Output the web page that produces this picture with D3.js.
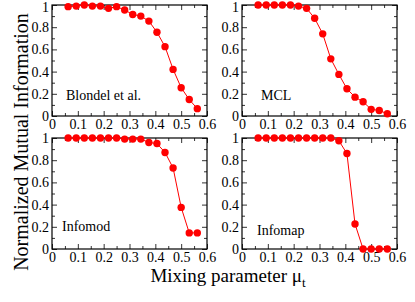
<!DOCTYPE html>
<html>
<head>
<meta charset="utf-8">
<script src="https://cdn.jsdelivr.net/npm/d3@7"></script>
<style>
  body { margin: 0; background: #fff; }
  svg { display: block; }
</style>
</head>
<body>
<div id="chart-area"></div>
<script>
// mixing parameter values (1/32 steps)
const MU = [0.0625, 0.09375, 0.125, 0.15625, 0.1875, 0.21875, 0.25, 0.28125, 0.3125,
  0.34375, 0.375, 0.40625, 0.4375, 0.46875, 0.5, 0.53125, 0.5625];

const BLONDEL = [0.985, 0.99, 1.0, 0.99, 0.99, 0.97, 0.985, 0.955, 0.915, 0.90, 0.855,
  0.755, 0.625, 0.42, 0.255, 0.148, 0.066];
const MCL = [1.0, 1.0, 1.0, 1.0, 1.0, 0.99, 0.97, 0.88, 0.74, 0.515, 0.375, 0.245,
  0.17, 0.128, 0.06, 0.05, 0.02];
const INFOMOD = [1.0, 1.0, 1.0, 1.0, 1.0, 1.0, 1.0, 0.99, 0.99, 0.99, 0.96, 0.95,
  0.87, 0.73, 0.375, 0.145, 0.145];
const INFOMAP = [1.0, 1.0, 1.0, 1.0, 1.0, 1.0, 1.0, 1.0, 1.0, 1.0, 0.975, 0.86,
  0.225, 0.0, 0.0, 0.0, 0.0];

const X_TICKS = [0, 0.1, 0.2, 0.3, 0.4, 0.5, 0.6];
const Y_TICKS = [0, 0.2, 0.4, 0.6, 0.8, 1];

const PANELS = [
  { name: 'Blondel et al.', values: BLONDEL, col: 0, row: 0, lx: 14, ly: -16 },
  { name: 'MCL', values: MCL, col: 1, row: 0, lx: 19, ly: -16 },
  { name: 'Infomod', values: INFOMOD, col: 0, row: 1, lx: 10, ly: -18 },
  { name: 'Infomap', values: INFOMAP, col: 1, row: 1, lx: 15, ly: -14 },
];

const W = 415, H = 302;
const colX = [52, 242];
const rowY = [5, 138];
const pw = 155, ph = 111;
const FONT = '"Liberation Serif", "Times New Roman", serif';

const svg = d3.select('#chart-area')
  .append('svg')
  .attr('width', W)
  .attr('height', H)
  .style('font-family', FONT);

const x = d3.scaleLinear().domain([0, 0.6]).range([0, pw]);
const y = d3.scaleLinear().domain([0, 1]).range([ph, 0]);

const fmt = (d) => d === 0 ? '0' : d === 1 ? '1' : d3.format('.1f')(d);
const xMinor = d3.range(0, 0.601, 0.05).filter((d, i) => i % 2 === 1);
const yMinor = d3.range(0.1, 1, 0.2);

const styleAxis = (g) => {
  g.select('.domain').remove();
  g.selectAll('line').attr('stroke', '#333').attr('stroke-width', 1);
  g.selectAll('text').attr('fill', '#000').style('font-size', '14px').style('font-family', FONT);
};

PANELS.forEach((p) => {
  const g = svg.append('g')
    .attr('transform', `translate(${colX[p.col]},${rowY[p.row]})`);

  // major + minor ticks, inward on all four sides
  g.append('g').attr('transform', `translate(0,${ph})`)
    .call(d3.axisBottom(x).tickValues(X_TICKS).tickSize(-5).tickPadding(3).tickFormat(fmt))
    .call(styleAxis);
  g.append('g').attr('transform', `translate(0,${ph})`)
    .call(d3.axisBottom(x).tickValues(xMinor).tickSize(-3).tickFormat(''))
    .call(styleAxis);
  const yAx = g.append('g')
    .call(d3.axisLeft(y).tickValues(Y_TICKS).tickSize(-5).tickPadding(3).tickFormat(fmt))
    .call(styleAxis);
  if (p.row === 0) {
    // keep the top "1" inside the picture
    yAx.selectAll('.tick text').filter((d) => d === 1).attr('dy', '0.45em');
  }
  g.append('g')
    .call(d3.axisLeft(y).tickValues(yMinor).tickSize(-3).tickFormat(''))
    .call(styleAxis);
  g.append('g')
    .call(d3.axisTop(x).tickValues(X_TICKS).tickSize(-5).tickFormat(''))
    .call(styleAxis);
  g.append('g')
    .call(d3.axisTop(x).tickValues(xMinor).tickSize(-3).tickFormat(''))
    .call(styleAxis);
  g.append('g').attr('transform', `translate(${pw},0)`)
    .call(d3.axisRight(y).tickValues(Y_TICKS).tickSize(-5).tickFormat(''))
    .call(styleAxis);
  g.append('g').attr('transform', `translate(${pw},0)`)
    .call(d3.axisRight(y).tickValues(yMinor).tickSize(-3).tickFormat(''))
    .call(styleAxis);

  g.append('rect')
    .attr('width', pw)
    .attr('height', ph)
    .attr('fill', 'none')
    .attr('stroke', '#000')
    .attr('stroke-width', 1.2);

  const data = MU.map((m, i) => ({ mu: m, v: p.values[i] }));

  g.append('path')
    .datum(data)
    .attr('fill', 'none')
    .attr('stroke', '#ff0000')
    .attr('stroke-width', 1)
    .attr('d', d3.line().x((d) => x(d.mu)).y((d) => y(d.v)));

  g.selectAll('.dot')
    .data(data)
    .enter()
    .append('circle')
    .attr('class', 'dot')
    .attr('cx', (d) => x(d.mu))
    .attr('cy', (d) => y(d.v))
    .attr('r', 3.7)
    .attr('fill', '#ff0000');

  g.append('text')
    .attr('x', p.lx)
    .attr('y', ph + p.ly)
    .style('font-size', '14px')
    .text(p.name);
});

svg.append('text')
  .attr('transform', `translate(28,${142}) rotate(-90)`)
  .attr('text-anchor', 'middle')
  .style('font-size', '20px')
  .text('Normalized Mutual Information');

const xl = svg.append('text')
  .attr('x', 228)
  .attr('y', 282)
  .attr('text-anchor', 'middle')
  .style('font-size', '19px');
xl.append('tspan').text('Mixing parameter \u03bc');
xl.append('tspan').attr('dy', 5).style('font-size', '13px').text('t');
</script>
</body>
</html>
